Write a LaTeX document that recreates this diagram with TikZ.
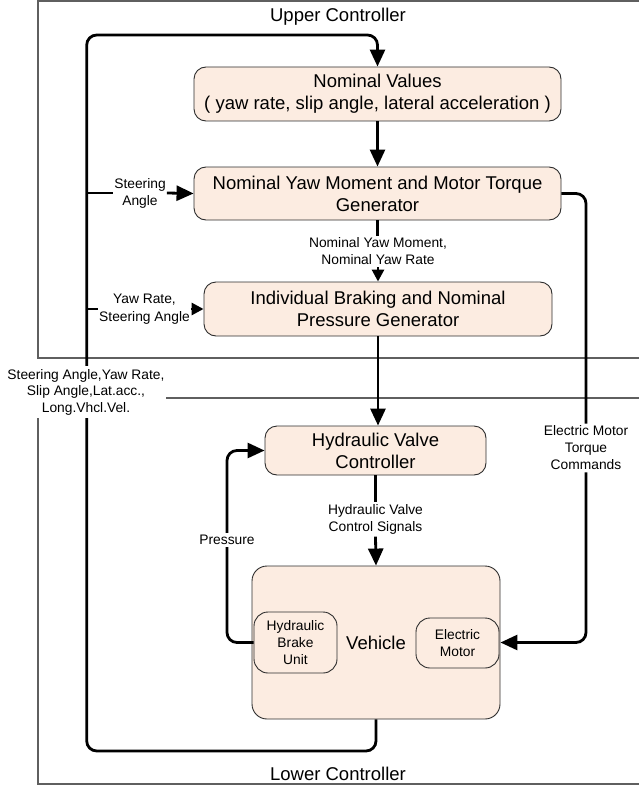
\documentclass[tikz,border=0pt]{standalone}
\usepackage{fontspec}
\setmainfont{Liberation Sans}
\usetikzlibrary{arrows.meta}
\definecolor{boxfill}{RGB}{252,236,225}
\definecolor{boxline}{RGB}{45,45,45}
\definecolor{ctrlline}{RGB}{95,95,95}
\begin{document}
\begin{tikzpicture}[x=1pt,y=-1pt,
  blk/.style={draw=boxline, line width=0.9pt, fill=boxfill, rounded corners=12pt, align=center, font=\fontsize{18.5}{22}\selectfont, inner sep=0pt},
  sub/.style={blk, rounded corners=14pt, font=\fontsize{13.8}{17}\selectfont},
  lbl/.style={fill=white, align=center, inner xsep=1pt, inner ysep=2pt, font=\fontsize{13.8}{17}\selectfont},
  conn/.style={line width=2.8pt, black},
  big/.style={-{Triangle[length=17pt,width=15pt]}},
  small/.style={-{Triangle[length=12pt,width=12pt]}},
  ctrl/.style={draw=ctrlline, line width=1.2pt},
  title/.style={font=\fontsize{18.5}{22}\selectfont, inner sep=0pt}
]
\useasboundingbox (0,0) rectangle (638,789);

% controller frames
\draw[ctrl] (640,1) -- (38,1) -- (38,358) -- (640,358);
\draw[ctrl] (640,398) -- (38,398) -- (38,784) -- (640,784);
\node[title] (uc) at (338,17) {Upper Controller};
\node[title] (lc) at (338,774) {Lower Controller};

% blocks
\node[blk, minimum width=367pt, minimum height=54pt] (nv) at (377.5,94) {Nominal Values\\( yaw rate, slip angle, lateral acceleration )};
\node[blk, minimum width=367pt, minimum height=53pt] (nym) at (377.5,193.5) {Nominal Yaw Moment and Motor Torque\\Generator};
\node[blk, minimum width=348pt, minimum height=54pt] (ibnp) at (378,309) {Individual Braking and Nominal\\Pressure Generator};
\node[blk, minimum width=221pt, minimum height=49pt] (hvc) at (375.5,450.5) {Hydraulic Valve\\Controller};
\node[blk, rounded corners=15pt, minimum width=248pt, minimum height=153pt] (veh) at (376,642.5) {Vehicle};
\node[sub, minimum width=83pt, minimum height=61pt] (hbu) at (295.5,642.5) {Hydraulic\\Brake\\Unit};
\node[sub, minimum width=83pt, minimum height=50pt] (em) at (457.5,643) {Electric\\Motor};

% main feedback loop
\coordinate (lb) at (86.7,751);
\coordinate (lt) at (86.7,35);
\draw[conn, big, rounded corners=10pt] (veh.south) |- (lb) -- (lt) -| (nv.north);

% branches from loop
\coordinate (b1) at (86.7,193);
\node[lbl] (sa) at (140,193) {Steering\\Angle};
\draw[conn] (b1) -- (sa.west);
\draw[conn, big] (sa.east) -- (nym.west);

\coordinate (b2) at (86.7,309);
\node[lbl, font=\fontsize{13.8}{18}\selectfont] (yr) at (144.5,309) {Yaw Rate,\\Steering Angle};
\draw[conn] (b2) -- (yr.west);
\draw[conn, small] (yr.east) -- (ibnp.west);

% vertical chain
\draw[conn, big] (nv.south) -- (nym.north);
\node[lbl] (nym2) at (378,251.5) {Nominal Yaw Moment,\\Nominal Yaw Rate};
\draw[conn] (nym.south) -- (nym.south |- nym2.north);
\draw[conn, small] (nym2.south) -- (ibnp.north);
\draw[conn, big] (ibnp.south) -- (ibnp.south |- hvc.north);
\node[lbl] (hvs) at (375.5,519.5) {Hydraulic Valve\\Control Signals};
\draw[conn] (hvc.south) -- (hvs.north);
\draw[conn, big] (hvs.south) -- (veh.north);

% motor torque path
\node[lbl] (eml) at (586,448) {Electric Motor\\Torque\\Commands};
\draw[conn, rounded corners=10pt] (nym.east) -| (eml.north);
\draw[conn, big, rounded corners=10pt] (eml.south) |- (veh.east);

% pressure feedback
\node[lbl] (pl) at (227,540) {Pressure};
\draw[conn, rounded corners=10pt] (hbu.west) -| (pl.south);
\draw[conn, big, rounded corners=10pt] (pl.north) |- (hvc.west);

% sensor label on the loop
\node[lbl, inner ysep=3pt, font=\fontsize{13.8}{16.5}\selectfont] (sv) at (86,392) {Steering Angle,Yaw Rate,\\Slip Angle,Lat.acc.,\\Long.Vhcl.Vel.};
\end{tikzpicture}
\end{document}
